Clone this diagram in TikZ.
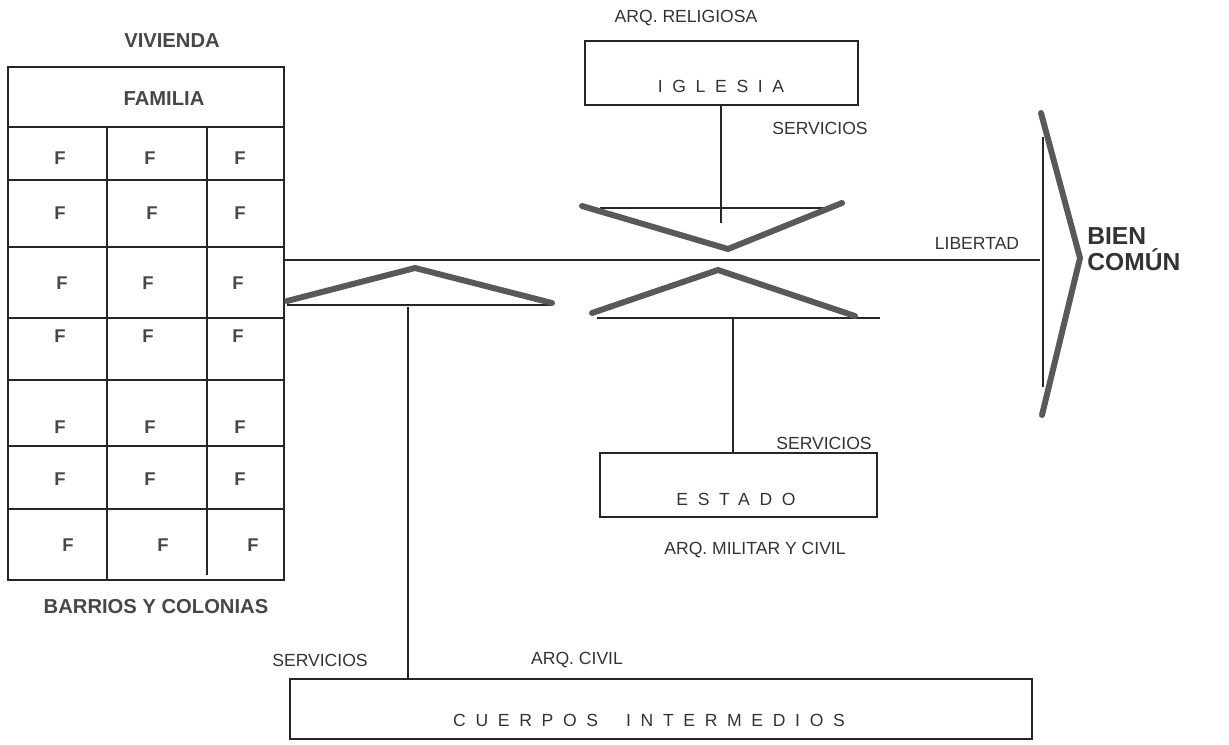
\documentclass[tikz,border=0pt]{standalone}
\usepackage{fontspec}
\setmainfont{Liberation Sans}
\begin{document}
\begin{tikzpicture}[x=0.02cm,y=-0.02cm,
  thinline/.style={line width=0.7pt, draw=black!85},
  bar/.style={line width=3.4pt, draw=black!65, line cap=round, line join=miter},
  lab/.style={font=\fontsize{10}{12}\selectfont, text=black!80, inner sep=0},
  biglab/.style={font=\fontsize{11.5}{13}\selectfont\bfseries, text=black!72, inner sep=0},
  flab/.style={font=\fontsize{10.5}{12}\selectfont\bfseries, text=black!72, inner sep=0},
  spaced/.style={font=\fontsize{10}{12}\selectfont\addfontfeature{LetterSpace=55}, text=black!80, inner sep=0},
  boxnode/.style={draw=black!85, line width=0.7pt, inner sep=0, rectangle}]
\useasboundingbox (0,0) rectangle (1229,744);
% ---- left grid (vivienda)
\node[boxnode, minimum width=5.52cm, minimum height=10.26cm] (grid) at (146,323.5) {};
\foreach \yy in {127,180,247,318,380,446,509} {\draw[thinline] (8,\yy) -- (284,\yy);}
\draw[thinline] (107,127) -- (107,580);
\draw[thinline] (207,127) -- (207,575);
\node[biglab] (viv) at (172,41) {VIVIENDA};
\node[biglab] (fam) at (164,99) {FAMILIA};
\node[biglab] (bar) at (156,607) {BARRIOS Y COLONIAS};
\foreach \xa/\xb/\xc/\yy [count=\i] in {60/150/240/158, 60/152/240/213, 62/148/238/283, 60/148/238/336, 60/150/240/427, 60/150/240/479, 68/163/253/545}
{\node[flab] (f\i a) at (\xa,\yy) {F}; \node[flab] (f\i b) at (\xb,\yy) {F}; \node[flab] (f\i c) at (\xc,\yy) {F};}
% ---- iglesia
\node[boxnode, minimum width=5.46cm, minimum height=1.28cm] (igl) at (721.5,73) {};
\node[spaced] (igt) at (721,86) {IGLESIA};
\node[lab] (arqr) at (686,18) {ARQ. RELIGIOSA};
\node[lab] (serv1) at (820,128) {SERVICIOS};
% ---- estado
\node[boxnode, minimum width=5.54cm, minimum height=1.28cm] (est) at (738.5,485) {};
\node[spaced] (estt) at (736,499) {ESTADO};
\node[lab] (serv2) at (824,443) {SERVICIOS};
\node[lab] (arqm) at (755,550) {ARQ. MILITAR Y CIVIL};
% ---- cuerpos intermedios
\node[boxnode, minimum width=14.84cm, minimum height=1.2cm] (cue) at (661,709) {};
\node[spaced] (cuet) at (649,720) {CUERPOS\hspace{16pt}INTERMEDIOS};
\node[lab] (serv3) at (320,660) {SERVICIOS};
\node[lab] (arqc) at (577,660) {ARQ. CIVIL};
% ---- libertad line and bien comun
\coordinate (libL) at (284,260);
\coordinate (libR) at (1040,260);
\draw[thinline] (libL) -- (libR);
\node[lab] (lib) at (977,243) {LIBERTAD};
\coordinate (vT) at (1043,137);
\coordinate (vB) at (1043,387);
\draw[thinline] (vT) -- (vB);
\coordinate (bT) at (1041,113);
\coordinate (bA) at (1080,258);
\coordinate (bB) at (1042,415);
\draw[bar] (bT) -- (bA) -- (bB);
\node[font=\fontsize{14}{16}\selectfont\bfseries, text=black!80, align=left, anchor=west, inner sep=0] (bien) at (1087,249) {BIEN\\[-1pt]COMÚN};
% ---- upper V (iglesia)
\coordinate (uvL) at (582,206);
\coordinate (uvB) at (728,249);
\coordinate (uvR) at (842,203);
\draw[thinline] (600,208) -- (835,208);
\coordinate (igBot) at (721,223);
\draw[thinline] (igl.south -| igBot) -- (igBot);
\draw[bar] (uvL) -- (uvB) -- (uvR);
% ---- lower roof (estado)
\coordinate (lrL) at (592,313);
\coordinate (lrA) at (718,270);
\coordinate (lrR) at (855,316);
\draw[thinline] (597,318) -- (880,318);
\coordinate (esTop) at (733,318);
\draw[thinline] (esTop) -- (esTop |- est.north);
\draw[bar] (lrL) -- (lrA) -- (lrR);
% ---- left roof (cuerpos)
\coordinate (rL) at (287,301);
\coordinate (rA) at (415,268);
\coordinate (rR) at (552,303);
\draw[thinline] (287,305) -- (552,305);
\coordinate (cTop) at (408,307);
\draw[thinline] (cTop) -- (cTop |- cue.north);
\draw[bar] (rL) -- (rA) -- (rR);
\end{tikzpicture}
\end{document}
